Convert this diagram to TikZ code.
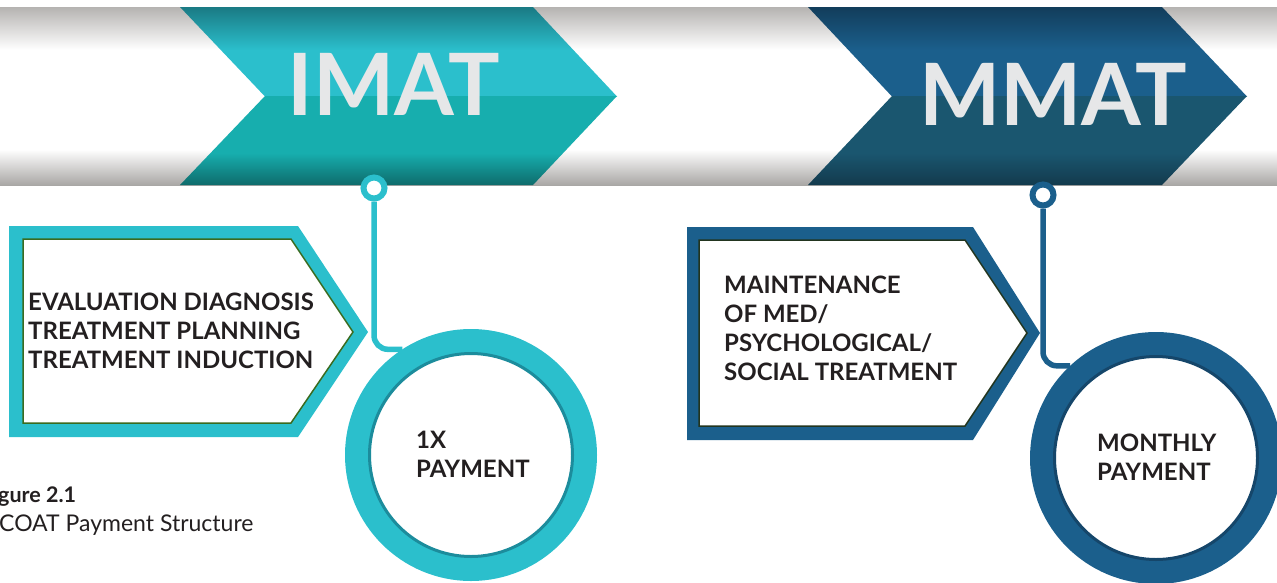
\documentclass[tikz,border=0pt]{standalone}
\usepackage{fontspec}
\setmainfont{Lato}
\usetikzlibrary{calc}

% palette
\definecolor{imatCyan}{HTML}{2BBFCC}
\definecolor{imatDark}{HTML}{1A7A84}
\definecolor{imatTeal}{HTML}{17AEAE}
\definecolor{imatTealDark}{HTML}{0E6B6B}
\definecolor{mmatBlue}{HTML}{1B5F8C}
\definecolor{mmatDark}{HTML}{123D5B}
\definecolor{mmatSlate}{HTML}{1A566F}
\definecolor{mmatSlateDark}{HTML}{133A4D}
\definecolor{ringCyanDark}{HTML}{1C8C9C}
\definecolor{ringBlueDark}{HTML}{15466A}
\definecolor{boxEdgeGreen}{HTML}{3A6B1F}
\definecolor{boxEdgeDark}{HTML}{22351F}
\definecolor{labelInk}{HTML}{231F20}
\definecolor{chevronInk}{HTML}{E6E7E8}
\definecolor{bandTop}{HTML}{B5B3B1}
\definecolor{bandBottom}{HTML}{A9A7A5}

% vertical shadings (central 25bp..75bp span the filled path)
\pgfdeclareverticalshading{bandshade}{100bp}{color(0bp)=(bandBottom); color(25bp)=(bandBottom); color(35bp)=(white); color(63bp)=(white); color(75bp)=(bandTop); color(100bp)=(bandTop)}
\pgfdeclareverticalshading{imatupper}{100bp}{color(0bp)=(imatCyan); color(51bp)=(imatCyan); color(75bp)=(imatDark); color(100bp)=(imatDark)}
\pgfdeclareverticalshading{imatlower}{100bp}{color(0bp)=(imatTealDark); color(25bp)=(imatTealDark); color(43bp)=(imatTeal); color(100bp)=(imatTeal)}
\pgfdeclareverticalshading{mmatupper}{100bp}{color(0bp)=(mmatBlue); color(51bp)=(mmatBlue); color(75bp)=(mmatDark); color(100bp)=(mmatDark)}
\pgfdeclareverticalshading{mmatlower}{100bp}{color(0bp)=(mmatSlateDark); color(25bp)=(mmatSlateDark); color(43bp)=(mmatSlate); color(100bp)=(mmatSlate)}

% multi-line labels are placed by the baseline of their last line
\tikzset{
  chevlabel/.style={inner sep=0, text=chevronInk, font=\bfseries\fontsize{86}{86}\selectfont},
  boxlabel/.style={inner sep=0, anchor=base west, align=left, text=labelInk,
    font=\bfseries\fontsize{24}{29}\selectfont},
  ringlabel/.style={inner sep=0, anchor=base west, align=left, text=labelInk,
    font=\bfseries\fontsize{24}{29}\selectfont},
  pinring/.style={circle, inner sep=0, minimum size=21, line width=6, fill=white},
  bigring/.style={circle, inner sep=0, minimum size=227, line width=25, fill=white},
  pinlink/.style={line width=5.5, rounded corners=14},
}

\begin{document}
\begin{tikzpicture}[x=1pt,y=-1pt]
\useasboundingbox (0,0) rectangle (1277,582);
\clip (0,0) rectangle (1277,582);

% grey band behind the chevrons
\shade[shading=bandshade] (0,7) rectangle (1277,185);

% IMAT chevron
\shade[shading=imatupper] (180,7) -- (533,7) -- (617,96.5) -- (265,96.5) -- cycle;
\shade[shading=imatlower] (265,96) -- (617,96) -- (533,185) -- (180,185) -- cycle;
\node[chevlabel] (imatLabel) at (394,84) {IMAT};

% MMAT chevron
\shade[shading=mmatupper] (808,7) -- (1162,7) -- (1247,96.5) -- (892,96.5) -- cycle;
\shade[shading=mmatlower] (892,96) -- (1247,96) -- (1162,185) -- (808,185) -- cycle;
\node[chevlabel] (mmatLabel) at (1053,94.5) {MMAT};

% pins hanging from the band
\node[pinring, draw=imatCyan] (imatPin) at (374,188) {};
\node[pinring, draw=mmatBlue] (mmatPin) at (1043,195) {};

% activity boxes
\fill[imatCyan] (9,226) -- (298,226) -- (368,332) -- (298,437) -- (9,437) -- cycle;
\filldraw[fill=white, draw=boxEdgeGreen, line width=1.5] (23,239) -- (291,239) -- (353,332) -- (291,423) -- (23,423) -- cycle;
\node[boxlabel] (imatTasks) at (28,368) {EVALUATION DIAGNOSIS\\TREATMENT PLANNING\\TREATMENT INDUCTION};

\fill[mmatBlue] (687,227) -- (973,227) -- (1040,333) -- (973,440) -- (687,440) -- cycle;
\filldraw[fill=white, draw=boxEdgeDark, line width=1.5] (699,240) -- (965,240) -- (1027,333) -- (965,426) -- (699,426) -- cycle;
\node[boxlabel] (mmatTasks) at (724,380) {MAINTENANCE\\OF MED/\\PSYCHOLOGICAL/\\SOCIAL TREATMENT};

% payment rings
\node[bigring, draw=imatCyan] (imatCircle) at (471,455) {};
\node[bigring, draw=mmatBlue] (mmatCircle) at (1156,458) {};
\draw[ringCyanDark, line width=3] (imatCircle.center) circle[radius=101.5];
\draw[ringBlueDark, line width=3] (mmatCircle.center) circle[radius=101.5];

% connectors from pins to rings
\draw[pinlink, imatCyan] (imatPin.south) |- (imatCircle.123);
\draw[pinlink, mmatBlue] (mmatPin.south) |- (mmatCircle.133);

\node[ringlabel] (imatPay) at (416,477) {1X\\PAYMENT};
\node[ringlabel] (mmatPay) at (1097,480) {MONTHLY\\PAYMENT};

% caption
\node[inner sep=0, anchor=base west, text=labelInk, font=\bfseries\fontsize{21.5}{21.5}\selectfont] (capNum) at (-2,502) {gure 2.1};
\node[inner sep=0, anchor=base west, text=labelInk, font=\fontsize{23}{23}\selectfont] (capTitle) at (-1,531) {COAT Payment Structure};
\end{tikzpicture}
\end{document}
